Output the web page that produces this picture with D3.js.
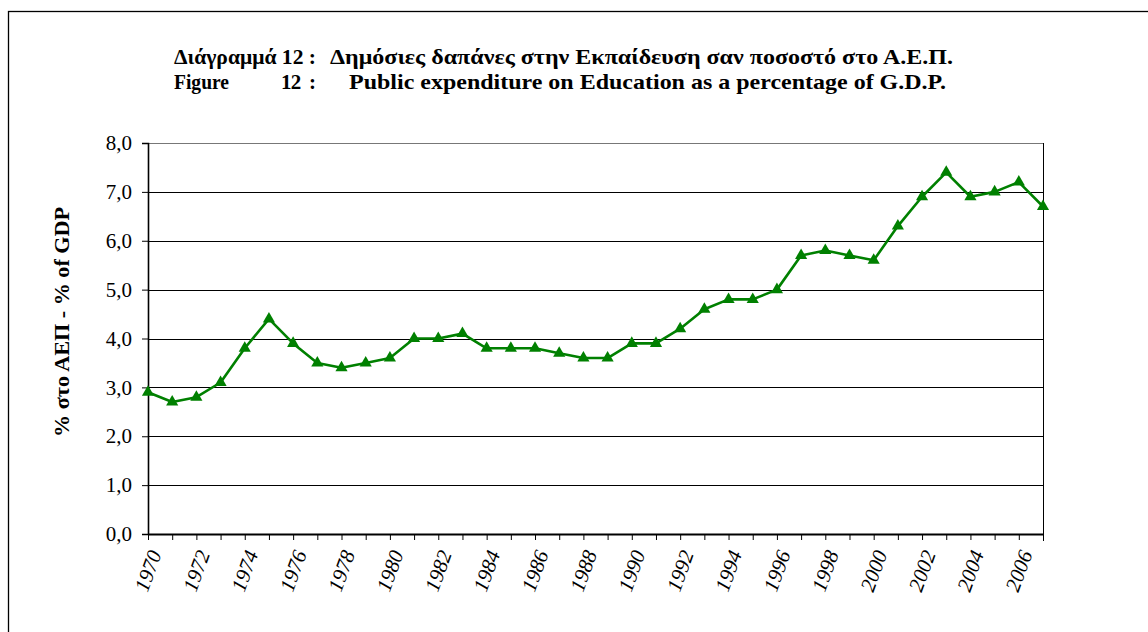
<!DOCTYPE html>
<html>
<head>
<meta charset="utf-8">
<script src="https://cdn.jsdelivr.net/npm/d3@7"></script>
<style>
  html, body { margin: 0; padding: 0; background: #fff; }
  svg { display: block; }
</style>
</head>
<body>
<svg id="chart" width="1148" height="632"></svg>
<script>
const years = d3.range(1970, 2008);
const values = [2.9, 2.7, 2.8, 3.1, 3.8, 4.4, 3.9, 3.5, 3.4, 3.5, 3.6, 4.0, 4.0, 4.1, 3.8, 3.8, 3.8, 3.7, 3.6, 3.6,
                3.9, 3.9, 4.2, 4.6, 4.8, 4.8, 5.0, 5.7, 5.8, 5.7, 5.6, 6.3, 6.9, 7.4, 6.9, 7.0, 7.2, 6.7];
const yTicks = [0, 1, 2, 3, 4, 5, 6, 7, 8];
const xLabelYears = d3.range(1970, 2007, 2);
const titleLine1a = "Διάγραμμά 12 :";
const titleLine1b = "Δημόσιες δαπάνες στην Εκπαίδευση σαν ποσοστό στο Α.Ε.Π.";
const titleLine2a = "Figure";
const titleLine2b = "12  :";
const titleLine2c = "Public expenditure on Education as a percentage of G.D.P.";
const yLabel = "% στο ΑΕΠ - % of GDP";

const FONT = "'Liberation Serif', 'DejaVu Serif', 'Times New Roman', Times, serif";
const data = years.map((y, i) => ({ year: y, value: values[i] }));

const svg = d3.select("#chart");
const L = 148, R = 1043, T = 143, B = 534;

svg.append("rect").attr("x", 8.5).attr("y", 11.5).attr("width", 1200).attr("height", 700)
  .attr("fill", "#fff").attr("stroke", "#000").attr("stroke-width", 1.3);

const x = d3.scaleLinear().domain([1970, 2007]).range([L, R]);
const y = d3.scaleLinear().domain([0, 8]).range([B, T]);

svg.append("g").selectAll("line").data(yTicks.filter(d => d > 0)).join("line")
  .attr("x1", L).attr("x2", R)
  .attr("y1", d => Math.round(y(d)) + 0.5).attr("y2", d => Math.round(y(d)) + 0.5)
  .attr("stroke", d => d === 8 ? "#777" : "#000").attr("stroke-width", 1);

svg.append("line").attr("x1", R + 0.5).attr("x2", R + 0.5).attr("y1", T).attr("y2", B + 7)
  .attr("stroke", "#000").attr("stroke-width", 1);

const yAxis = d3.axisLeft(y).tickValues(yTicks).tickSize(6).tickPadding(10)
  .tickFormat(d => d3.format(".1f")(d).replace(".", ","));
const gy = svg.append("g").attr("transform", `translate(${L},0)`).call(yAxis)
  .attr("font-family", FONT).attr("font-size", 21);
gy.select(".domain").attr("stroke", "#000").attr("stroke-width", 1.6);
gy.selectAll(".tick line").attr("stroke", "#000");
gy.selectAll(".tick text").attr("fill", "#000");

const xAxis = d3.axisBottom(x).tickValues(years).tickSize(6).tickSizeOuter(0).tickFormat("");
const gx = svg.append("g").attr("transform", `translate(0,${B})`).call(xAxis);
gx.select(".domain").attr("stroke", "#000").attr("stroke-width", 2);
gx.selectAll(".tick line").attr("stroke", "#000");

svg.append("g").attr("font-family", FONT).selectAll("text").data(xLabelYears).join("text")
  .attr("transform", d => `translate(${x(d) + 7},${B + 17}) rotate(-70)`)
  .attr("text-anchor", "end")
  .attr("dy", "0.35em")
  .attr("font-size", 21).attr("font-style", "italic").attr("fill", "#000")
  .text(d => d);

const line = d3.line().x(d => x(d.year)).y(d => y(d.value));
svg.append("path").datum(data).attr("d", line)
  .attr("fill", "none").attr("stroke", "#008000").attr("stroke-width", 2.6)
  .attr("stroke-linejoin", "round");

const tri = d3.symbol().type(d3.symbolTriangle).size(64);
svg.append("g").selectAll("path").data(data).join("path")
  .attr("transform", d => `translate(${x(d.year)},${y(d.value)})`)
  .attr("d", tri).attr("fill", "#008000");

const tg = svg.append("g").attr("font-family", FONT).attr("font-weight", "bold")
  .attr("font-size", 21).attr("fill", "#000").attr("lengthAdjust", "spacingAndGlyphs");
tg.append("text").attr("x", 174).attr("y", 64).attr("textLength", 142).attr("lengthAdjust", "spacingAndGlyphs").text(titleLine1a);
tg.append("text").attr("x", 330).attr("y", 64).attr("textLength", 623).attr("lengthAdjust", "spacingAndGlyphs").text(titleLine1b);
tg.append("text").attr("x", 174).attr("y", 89).attr("textLength", 55).attr("lengthAdjust", "spacingAndGlyphs").text(titleLine2a);
tg.append("text").attr("x", 281).attr("y", 89).attr("textLength", 35).attr("lengthAdjust", "spacing").style("white-space", "pre").text(titleLine2b);
tg.append("text").attr("x", 349).attr("y", 89).attr("textLength", 597).attr("lengthAdjust", "spacingAndGlyphs").text(titleLine2c);

svg.append("text")
  .attr("transform", `translate(69,322) rotate(-90)`)
  .attr("text-anchor", "middle").attr("font-family", FONT).attr("font-weight", "bold").attr("font-size", 21)
  .attr("textLength", 230).attr("lengthAdjust", "spacingAndGlyphs")
  .text(yLabel);
</script>
</body>
</html>
